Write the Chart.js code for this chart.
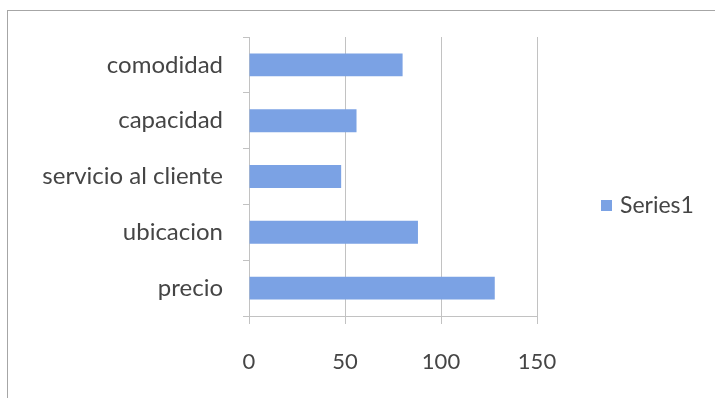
<!DOCTYPE html>
<html>
<head>
  <title>Series1</title>
  <script src="https://cdn.jsdelivr.net/npm/chart.js"></script>
  <style>
    html, body { margin: 0; padding: 0; background: #fff; overflow: hidden; }
    #frame { position: absolute; left: 7px; top: 10px; width: 760px; height: 440px; border: 1px solid #a6a6a6; }
    #wrap { position: absolute; left: 0; top: 0; width: 715px; height: 398px; }
  </style>
</head>
<body>
  <div id="frame"></div>
  <div id="wrap"><canvas id="barChart"></canvas></div>

  <script>
    const categories = ["comodidad", "capacidad", "servicio al cliente", "ubicacion", "precio"];
    const series1 = [80, 56, 48, 88, 128];
    const xTicks = [0, 50, 100, 150];

    const barColor = "#7ba2e4";
    const textColor = "#454545";
    const lineColor = "#c2c2c2";
    const fontFamily = "Lato, 'Open Sans', sans-serif";

    // legend on the right, drawn after the chart
    const sideLegend = {
      id: "sideLegend",
      afterDraw(chart) {
        const ctx = chart.ctx;
        const ds = chart.data.datasets[0];
        const area = chart.chartArea;
        const x = area.right + 64;
        const y = (area.top + area.bottom) / 2 + 29;
        ctx.save();
        ctx.fillStyle = ds.backgroundColor;
        ctx.fillRect(x, y - 5.5, 11, 11);
        ctx.fillStyle = textColor;
        ctx.font = "23px " + fontFamily;
        ctx.textBaseline = "middle";
        ctx.textAlign = "left";
        ctx.fillText(ds.label, x + 19, y);
        ctx.restore();
      }
    };

    new Chart(document.getElementById("barChart"), {
      type: "bar",
      data: {
        labels: categories,
        datasets: [{
          label: "Series1",
          data: series1,
          backgroundColor: barColor,
          barPercentage: 0.41,
          categoryPercentage: 1
        }]
      },
      options: {
        indexAxis: "y",
        responsive: true,
        maintainAspectRatio: false,
        animation: false,
        layout: { padding: { top: 37, right: 178, left: 0, bottom: 0 } },
        plugins: {
          legend: { display: false },
          tooltip: { enabled: false }
        },
        scales: {
          x: {
            min: xTicks[0],
            max: xTicks[xTicks.length - 1],
            afterBuildTicks: s => { s.ticks = xTicks.map(v => ({ value: v })); },
            afterFit: s => { s.height = 82; },
            grid: { color: lineColor, tickLength: 8 },
            border: { color: lineColor },
            ticks: { padding: 25, color: textColor, font: { family: fontFamily, size: 22 } }
          },
          y: {
            afterFit: s => { s.width = 249; },
            grid: { drawOnChartArea: false, tickLength: 6, color: lineColor, offset: true },
            border: { color: lineColor },
            ticks: { padding: 20, color: textColor, font: { family: fontFamily, size: 24 } }
          }
        }
      },
      plugins: [sideLegend]
    });
  </script>
</body>
</html>
